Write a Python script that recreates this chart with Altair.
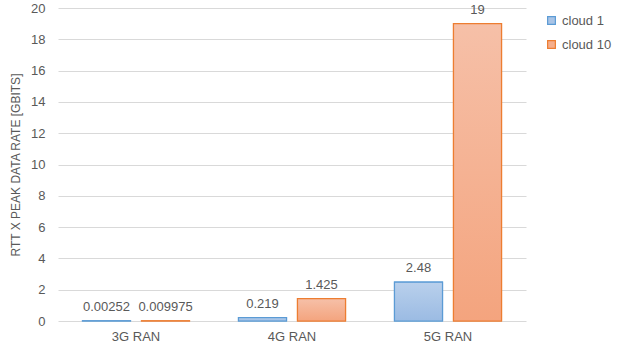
import altair as alt
import pandas as pd

categories = ["3G RAN", "4G RAN", "5G RAN"]
series_names = ["cloud 1", "cloud 10"]
cloud1 = [0.00252, 0.219, 2.48]
cloud10 = [0.009975, 1.425, 19]
label_text_1 = ["0.00252", "0.219", "2.48"]
label_text_10 = ["0.009975", "1.425", "19"]
y_ticks = [0, 2, 4, 6, 8, 10, 12, 14, 16, 18, 20]

rows = []
for i, c in enumerate(categories):
    rows.append({"cat": c, "series": "cloud 1", "value": cloud1[i], "label": label_text_1[i]})
    rows.append({"cat": c, "series": "cloud 10", "value": cloud10[i], "label": label_text_10[i]})
df = pd.DataFrame(rows)

FONT = "Liberation Sans"
GRAY = "#595959"

grad_blue = alt.LinearGradient(
    gradient="linear", x1=0, y1=0, x2=0, y2=1,
    stops=[alt.GradientStop(color="#b9d0ec", offset=0), alt.GradientStop(color="#9bbbe3", offset=1)],
)
grad_orange = alt.LinearGradient(
    gradient="linear", x1=0, y1=0, x2=0, y2=1,
    stops=[alt.GradientStop(color="#f6c0a8", offset=0), alt.GradientStop(color="#f4a47e", offset=1)],
)

x_enc = alt.X("cat:N", sort=categories,
              scale=alt.Scale(paddingInner=0, paddingOuter=0),
              axis=alt.Axis(title=None, labelAngle=0, ticks=False, domain=False, grid=False,
                            labelFont=FONT, labelFontSize=13, labelColor=GRAY, labelPadding=9))
xoff = alt.XOffset("series:N", sort=series_names,
                   scale=alt.Scale(paddingInner=0.186, paddingOuter=0.415))
y_enc = alt.Y("value:Q", scale=alt.Scale(domain=[0, 20], nice=False),
              axis=alt.Axis(title="RTT X PEAK DATA RATE  [GBITS]", values=y_ticks,
                            labelOverlap=False,
                            ticks=False, domain=False, grid=True, gridColor="#d9d9d9",
                            labelFont=FONT, labelFontSize=13, labelColor=GRAY, labelPadding=13,
                            titleFont=FONT, titleFontSize=12, titleFontWeight="normal",
                            titleColor=GRAY, titlePadding=8))

base = alt.Chart(df)

legend_kw = dict(title=None, orient="none", legendX=487, legendY=6,
                 labelFont=FONT, labelFontSize=13, labelColor=GRAY,
                 symbolType="square", symbolSize=60, rowPadding=10, symbolStrokeWidth=1.2)

bars = base.mark_bar(strokeWidth=1.2).encode(
    x=x_enc, xOffset=xoff, y=y_enc,
    fill=alt.Fill("series:N", sort=series_names,
                  scale=alt.Scale(domain=series_names, range=["#a9c4e6", "#f5ae8c"]),
                  legend=alt.Legend(**legend_kw)),
    stroke=alt.Stroke("series:N", sort=series_names,
                      scale=alt.Scale(domain=series_names, range=["#5b9bd5", "#ed7d31"]),
                      legend=alt.Legend(**legend_kw)),
)

grad_bars = base.mark_bar(strokeWidth=1.2).encode(
    x=x_enc, xOffset=xoff, y=y_enc,
    fill=alt.condition(alt.datum.series == "cloud 1", alt.value(grad_blue), alt.value(grad_orange)),
    stroke=alt.condition(alt.datum.series == "cloud 1", alt.value("#5b9bd5"), alt.value("#ed7d31")),
)

labels = base.mark_text(font=FONT, fontSize=13, color=GRAY, baseline="bottom", dy=-7).encode(
    x=x_enc, xOffset=xoff, y=y_enc, text="label:N",
)

chart = alt.layer(bars, grad_bars, labels).properties(
    width=468, height=313,
    autosize=alt.AutoSizeParams(type="none"),
    padding={"left": 58, "top": 8, "right": 99, "bottom": 31},
).configure_view(stroke=None, strokeWidth=0).configure_axisX(grid=False, domain=False)

chart.save("out.html", embed_options={"renderer": "svg", "actions": False})
